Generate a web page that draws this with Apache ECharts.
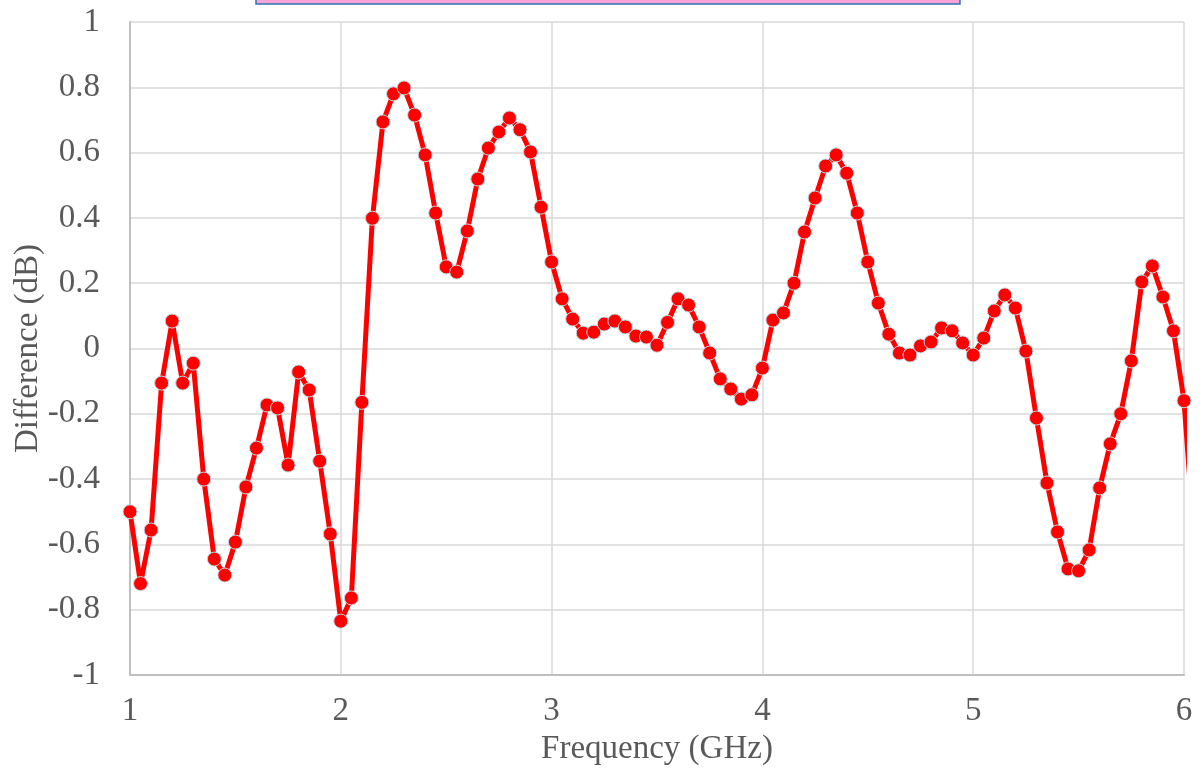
<!DOCTYPE html>
<html>
<head>
<meta charset="utf-8">
<script src="https://cdn.jsdelivr.net/npm/echarts@6/dist/echarts.min.js"></script>
<style>html,body{margin:0;padding:0;background:#fff}#c{width:1202px;height:778px}</style>
</head>
<body>
<div id="c"></div>
<script>
const frequency = [
1.00,1.05,1.10,1.15,1.20,1.25,1.30,1.35,1.40,1.45,1.50,1.55,1.60,1.65,1.70,1.75,1.80,1.85,1.90,1.95,
2.00,2.05,2.10,2.15,2.20,2.25,2.30,2.35,2.40,2.45,2.50,2.55,2.60,2.65,2.70,2.75,2.80,2.85,2.90,2.95,
3.00,3.05,3.10,3.15,3.20,3.25,3.30,3.35,3.40,3.45,3.50,3.55,3.60,3.65,3.70,3.75,3.80,3.85,3.90,3.95,
4.00,4.05,4.10,4.15,4.20,4.25,4.30,4.35,4.40,4.45,4.50,4.55,4.60,4.65,4.70,4.75,4.80,4.85,4.90,4.95,
5.00,5.05,5.10,5.15,5.20,5.25,5.30,5.35,5.40,5.45,5.50,5.55,5.60,5.65,5.70,5.75,5.80,5.85,5.90,5.95,
6.00,6.05];
const difference = [
-0.50,-0.72,-0.556,-0.106,0.084,-0.106,-0.045,-0.40,-0.645,-0.694,-0.593,-0.424,-0.305,-0.173,-0.182,-0.357,-0.072,-0.127,-0.345,-0.568,
-0.835,-0.764,-0.165,0.399,0.694,0.78,0.798,0.715,0.593,0.415,0.25,0.234,0.36,0.519,0.614,0.663,0.706,0.67,0.602,0.433,
0.265,0.152,0.09,0.047,0.05,0.075,0.084,0.066,0.038,0.035,0.01,0.08,0.152,0.133,0.066,-0.014,-0.093,-0.124,-0.155,-0.142,
-0.06,0.087,0.109,0.2,0.357,0.461,0.559,0.593,0.537,0.415,0.265,0.139,0.044,-0.014,-0.02,0.008,0.02,0.063,0.054,0.017,
-0.02,0.032,0.115,0.164,0.124,-0.008,-0.213,-0.412,-0.562,-0.675,-0.681,-0.617,-0.427,-0.292,-0.2,-0.038,0.204,0.253,0.158,0.054,
-0.16,-0.6];
const xTicks = {min: 1, max: 6, interval: 1};
const yTicks = {min: -1, max: 1, interval: 0.2};
const xTitle = 'Frequency (GHz)';
const yTitle = 'Difference (dB)';

const pts = frequency.map((f, i) => [f, difference[i]]);
const font = '"Liberation Serif", "Times New Roman", serif';
const chart = echarts.init(document.getElementById('c'));
chart.setOption({
  animation: false,
  grid: {left: 130, right: 18, top: 22, bottom: 103, containLabel: false, outerBoundsMode: 'none'},
  xAxis: {
    type: 'value', min: xTicks.min, max: xTicks.max, interval: xTicks.interval,
    name: xTitle, nameLocation: 'middle', nameGap: 58,
    nameTextStyle: {fontFamily: font, fontSize: 33, color: '#595959'},
    axisLine: {show: true, onZero: false, lineStyle: {color: '#bfbfbf', width: 2}},
    axisTick: {show: false},
    axisLabel: {fontFamily: font, fontSize: 33, color: '#595959', margin: 20},
    splitLine: {show: true, lineStyle: {color: '#d9d9d9', width: 1.5}}
  },
  yAxis: {
    type: 'value', min: yTicks.min, max: yTicks.max, interval: yTicks.interval,
    name: yTitle, nameLocation: 'middle', nameGap: 85, nameRotate: 90, nameMoveOverlap: false,
    nameTextStyle: {fontFamily: font, fontSize: 33, color: '#595959'},
    axisLine: {show: true, onZero: false, lineStyle: {color: '#bfbfbf', width: 2}},
    axisTick: {show: false},
    axisLabel: {fontFamily: font, fontSize: 33, color: '#595959', margin: 30,
      formatter: v => String(Math.round(v * 10) / 10)},
    splitLine: {show: true, lineStyle: {color: '#d9d9d9', width: 1.5}}
  },
  series: [{
    type: 'line', data: pts, clip: true,
    symbol: 'circle', symbolSize: 14,
    lineStyle: {color: '#ff0000', width: 5},
    itemStyle: {color: '#ff0000', borderColor: '#b7dde8', borderWidth: 1}
  }],
  graphic: [{
    type: 'rect', shape: {x: 256, y: -6, width: 704, height: 10},
    style: {fill: '#f7a3d6', stroke: '#2e75b6', lineWidth: 1.5}
  }]
});
</script>
</body>
</html>
